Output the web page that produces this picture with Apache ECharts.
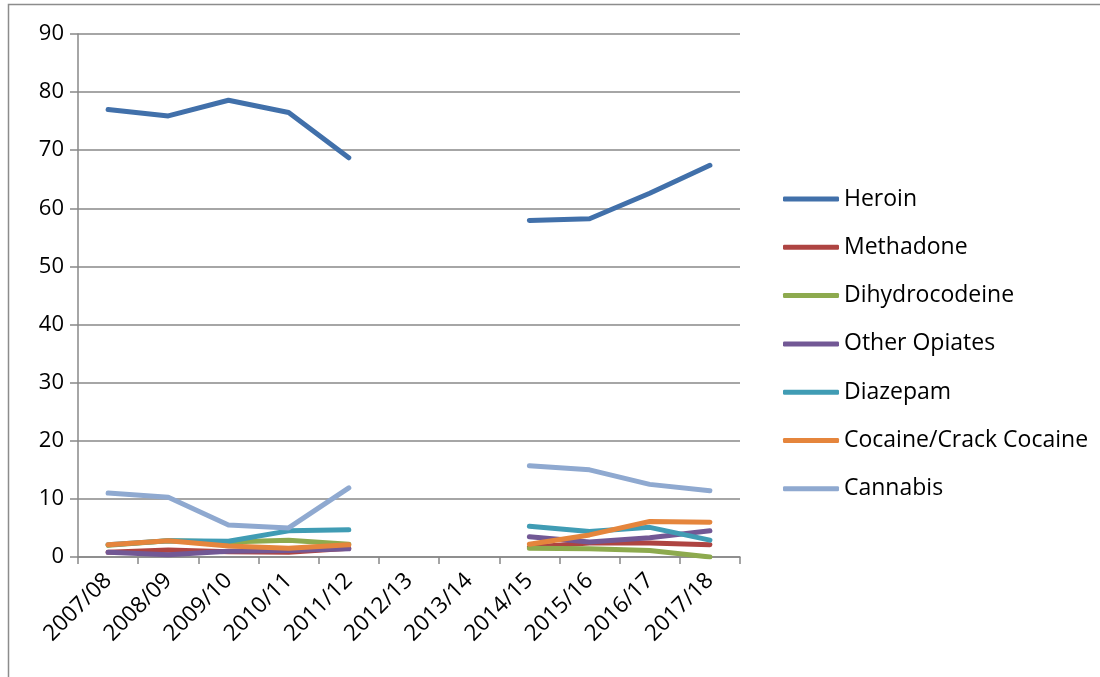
<!DOCTYPE html>
<html>
<head>
<meta charset="utf-8">
<script src="https://cdn.jsdelivr.net/npm/echarts@6/dist/echarts.min.js"></script>
<style>
  html, body { margin: 0; padding: 0; background: #fff; }
  #chart { width: 1100px; height: 677px; }
</style>
</head>
<body>
<div id="chart"></div>
<script>
// Financial years on the category axis
const years = ['2007/08', '2008/09', '2009/10', '2010/11', '2011/12', '2012/13',
               '2013/14', '2014/15', '2015/16', '2016/17', '2017/18'];

// Percentages by drug; null marks years with no data (line breaks)
const heroin         = [77.0, 75.9, 78.6, 76.5, 68.7, null, null, 57.9, 58.2, 62.6, 67.4];
const methadone      = [0.8, 1.2, 0.9, 0.8, 1.5, null, null, 1.7, 2.4, 2.4, 2.1];
const dihydrocodeine = [2.0, 2.8, 2.6, 2.9, 2.2, null, null, 1.5, 1.4, 1.1, 0.0];
const otherOpiates   = [0.8, 0.4, 1.0, 1.1, 1.4, null, null, 3.5, 2.6, 3.3, 4.5];
const diazepam       = [2.1, 2.8, 2.7, 4.5, 4.7, null, null, 5.3, 4.4, 5.1, 2.9];
const cocaine        = [2.1, 2.8, 1.9, 1.5, 2.1, null, null, 2.2, 3.8, 6.1, 6.0];
const cannabis       = [11.0, 10.3, 5.5, 5.0, 11.9, null, null, 15.7, 15.0, 12.5, 11.4];

const yTicks = { min: 0, max: 90, interval: 10 };

const seriesDefs = [
  { name: 'Heroin', data: heroin, color: '#4170AA' },
  { name: 'Methadone', data: methadone, color: '#AE4442' },
  { name: 'Dihydrocodeine', data: dihydrocodeine, color: '#8DAA4E' },
  { name: 'Other Opiates', data: otherOpiates, color: '#725895' },
  { name: 'Diazepam', data: diazepam, color: '#409CB4' },
  { name: 'Cocaine/Crack Cocaine', data: cocaine, color: '#E5853C' },
  { name: 'Cannabis', data: cannabis, color: '#8FA9D0' }
];

const FONT = 'Open Sans';
const GRID_GREY = '#888888';

const chart = echarts.init(document.getElementById('chart'), null, { renderer: 'canvas' });

chart.setOption({
  animation: false,
  backgroundColor: '#ffffff',
  textStyle: { fontFamily: FONT, color: '#000' },
  graphic: [{
    type: 'rect',
    shape: { x: 8.5, y: 4.5, width: 1200, height: 1000 },
    style: { fill: 'none', stroke: '#8c8c8c', lineWidth: 1.5 },
    silent: true
  }],
  grid: { left: 78, right: 360, top: 34, bottom: 120, containLabel: false },
  legend: {
    orient: 'vertical',
    left: 778,
    top: 181,
    itemWidth: 56,
    itemHeight: 5,
    itemGap: 22.3,
    icon: 'roundRect',
    textStyle: { fontFamily: FONT, fontSize: 23, color: '#000', lineHeight: 26, padding: [0, 0, 0, 0] },
    data: seriesDefs.map(s => s.name)
  },
  xAxis: {
    type: 'category',
    data: years,
    boundaryGap: true,
    axisLine: { lineStyle: { color: GRID_GREY, width: 1.5 } },
    axisTick: { show: true, length: 7, lineStyle: { color: GRID_GREY, width: 1.5 } },
    axisLabel: { rotate: 45, margin: 20, fontFamily: FONT, fontSize: 22.5, color: '#000', interval: 0 },
    splitLine: { show: false }
  },
  yAxis: {
    type: 'value',
    min: yTicks.min,
    max: yTicks.max,
    interval: yTicks.interval,
    axisLine: { show: true, lineStyle: { color: GRID_GREY, width: 1.5 } },
    axisTick: { show: true, length: 8, lineStyle: { color: GRID_GREY, width: 1.5 } },
    axisLabel: { margin: 14, fontFamily: FONT, fontSize: 22, color: '#000' },
    splitLine: { show: true, lineStyle: { color: GRID_GREY, width: 1.5 } }
  },
  series: seriesDefs.map(s => ({
    name: s.name,
    type: 'line',
    data: s.data,
    connectNulls: false,
    symbol: 'none',
    smooth: false,
    color: s.color,
    lineStyle: { color: s.color, width: 5, cap: 'round', join: 'round' },
    itemStyle: { color: s.color }
  }))
});
</script>
</body>
</html>
